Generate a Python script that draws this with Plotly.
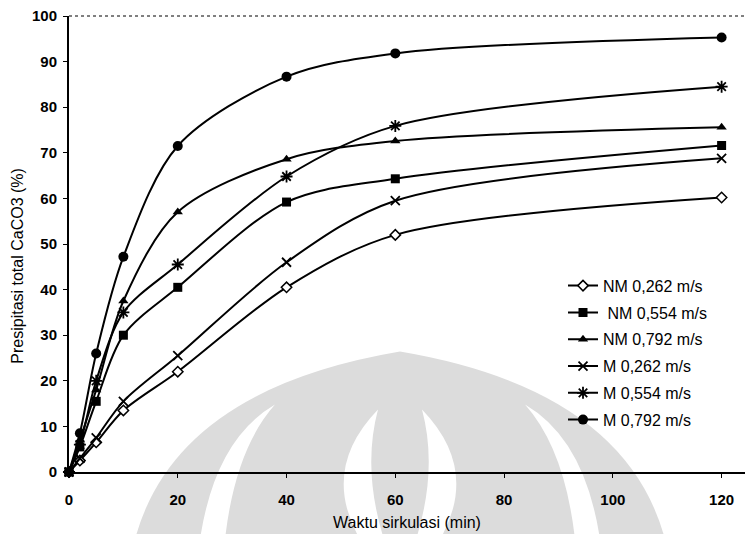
import plotly.graph_objects as go

# ---- data ----
x_min = [0, 2, 5, 10, 20, 40, 60, 120]
series_names = ["NM 0,262 m/s", " NM 0,554 m/s", "NM 0,792 m/s",
                "M 0,262 m/s", "M 0,554 m/s", "M 0,792 m/s"]
nm_0262 = [0, 2.5, 6.5, 13.5, 22, 40.5, 52, 60.2]
nm_0554 = [0, 5.5, 15.5, 30, 40.5, 59.2, 64.3, 71.6]
nm_0792 = [0, 7, 18, 37.5, 57, 68.6, 72.6, 75.6]
m_0262 = [0, 3, 7.5, 15.5, 25.5, 46, 59.5, 68.8]
m_0554 = [0, 6, 20, 35, 45.5, 64.8, 75.9, 84.5]
m_0792 = [0, 8.5, 26, 47.2, 71.5, 86.7, 91.8, 95.3]
x_ticks = [0, 20, 40, 60, 80, 100, 120]
y_ticks = [0, 10, 20, 30, 40, 50, 60, 70, 80, 90, 100]
y_title = "Presipitasi total CaCO3 (%)"
x_title = "Waktu sirkulasi (min)"

values = [nm_0262, nm_0554, nm_0792, m_0262, m_0554, m_0792]
markers = [
    dict(symbol="diamond", size=8, color="white", line=dict(color="black", width=1.5)),
    dict(symbol="square", size=9, color="black", line=dict(color="black", width=0)),
    dict(symbol="triangle-up", size=9, color="black", line=dict(color="black", width=0)),
    dict(symbol="x-thin-open", size=9, color="black", line=dict(color="black", width=1.8)),
    dict(symbol="asterisk-open", size=10, color="black", line=dict(color="black", width=1.8)),
    dict(symbol="circle", size=10, color="black", line=dict(color="black", width=0)),
]

fig = go.Figure()
for i, (name, vals, mk) in enumerate(zip(series_names, values, markers)):
    fig.add_trace(go.Scatter(
        x=x_min, y=vals, name=name, mode="lines+markers",
        line=dict(color="black", width=2, shape="spline", smoothing=0.9),
        marker=mk, cliponaxis=False, legendgroup=f"g{i}",
    ))

# plot area geometry (pixels) for decorative watermark
L, R, T, B = 69, 745, 16, 472.5
def px(xp):
    return (xp - L) / (R - L)
def py(yp):
    return (B - yp) / (B - T)
def path(points_cmds):
    out = []
    for cmd, pts in points_cmds:
        s = cmd + " " + " ".join(f"{px(a):.4f},{py(b):.4f}" for a, b in pts)
        out.append(s)
    return " ".join(out) + " Z"

grey = "#dcdcdc"
shapes = []
# outer dome
shapes.append(dict(type="path", xref="paper", yref="paper", layer="below",
                   path=path([("M", [(135, 540)]), ("Q", [(175, 390), (400, 352)]),
                              ("Q", [(625, 390), (665, 540)])]),
                   fillcolor=grey, line=dict(width=0)))
# white crescent bands
shapes.append(dict(type="path", xref="paper", yref="paper", layer="below",
                   path=path([("M", [(200, 540)]), ("Q", [(215, 440), (275, 405)]),
                              ("Q", [(235, 450), (225, 540)])]),
                   fillcolor="white", line=dict(width=0)))
shapes.append(dict(type="path", xref="paper", yref="paper", layer="below",
                   path=path([("M", [(600, 540)]), ("Q", [(585, 440), (525, 405)]),
                              ("Q", [(565, 450), (575, 540)])]),
                   fillcolor="white", line=dict(width=0)))
# inner white lenses
shapes.append(dict(type="path", xref="paper", yref="paper", layer="below",
                   path=path([("M", [(378, 410)]), ("Q", [(320, 470), (360, 540)]),
                              ("L", [(384, 540)]), ("Q", [(362, 470), (378, 410)])]),
                   fillcolor="white", line=dict(width=0)))
shapes.append(dict(type="path", xref="paper", yref="paper", layer="below",
                   path=path([("M", [(422, 410)]), ("Q", [(480, 470), (440, 540)]),
                              ("L", [(416, 540)]), ("Q", [(438, 470), (422, 410)])]),
                   fillcolor="white", line=dict(width=0)))
# dotted top border
shapes.append(dict(type="line", xref="paper", yref="paper", x0=0, x1=1, y0=1, y1=1,
                   line=dict(color="black", width=1, dash="dot")))

font_family = "Liberation Sans Narrow, Arial Narrow, Liberation Sans, Arial, sans-serif"

fig.update_layout(
    width=745, height=534,
    margin=dict(l=L, r=745 - R, t=T, b=534 - B),
    paper_bgcolor="white", plot_bgcolor="rgba(0,0,0,0)",
    font=dict(family="Liberation Sans, Arial, sans-serif", color="black", size=15),
    showlegend=True,
    legend=dict(x=px(563), y=py(269), xanchor="left", yanchor="top",
                bgcolor="rgba(0,0,0,0)", borderwidth=0,
                font=dict(family=font_family, size=16, color="black"),
                traceorder="grouped", tracegroupgap=3),
    shapes=shapes,
    annotations=[dict(text=y_title, textangle=-90, xref="paper", yref="paper",
                      x=px(18), y=py(266), showarrow=False,
                      xanchor="center", yanchor="middle",
                      font=dict(family=font_family, size=16, color="black"))],
    xaxis=dict(range=[0, 124.3], tickvals=x_ticks,
               ticktext=[f"<b>{v}</b>" for v in x_ticks],
               showgrid=False, zeroline=False,
               showline=True, linecolor="black", linewidth=2,
               ticks="outside", ticklen=4, tickwidth=1, tickcolor="black",
               tickfont=dict(family="Liberation Sans, Arial", size=15, color="black"),
               ticklabelstandoff=9,
               title=dict(text=x_title, standoff=10,
                          font=dict(family="Liberation Sans, Arial", size=16))),
    yaxis=dict(range=[0, 100], tickvals=y_ticks,
               ticktext=[f"<b>{v}</b>" for v in y_ticks],
               showgrid=False, zeroline=False,
               showline=True, linecolor="black", linewidth=2,
               ticks="outside", ticklen=4, tickwidth=1, tickcolor="black",
               tickfont=dict(family="Liberation Sans, Arial", size=15, color="black"),
               ticklabelstandoff=3),
)

fig.write_html("out.html")
